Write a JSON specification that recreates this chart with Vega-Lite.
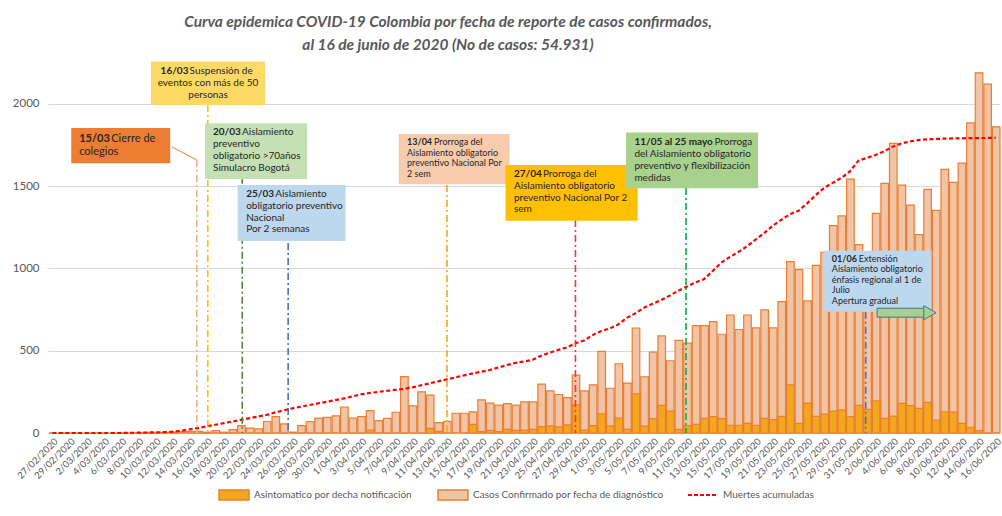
{
"$schema":"https://vega.github.io/schema/vega-lite/v6.json",
"width":952,"height":362,
"autosize":{"type":"none"},
"padding":{"left":48,"top":71,"right":2,"bottom":83},
"background":"white",
"config":{"view":{"stroke":null},"font":"Lato"},
"title":{"text":["Curva epidemica COVID-19 Colombia  por fecha de reporte de casos confirmados,","al 16 de junio de 2020 (No de casos: 54.931)"],"font":"Lato","fontSize":15.5,"fontStyle":"italic","fontWeight":"bold","color":"#595959","anchor":"middle","frame":"group","dx":-76,"offset":8,"lineHeight":23},
"resolve":{"axis":{"x":"independent","y":"independent"},"scale":{"color":"independent"},"legend":{"color":"independent"}},
"datasets":{
"casos":[
{"f":"2020-02-27","conf":0,"asin":0,"muertes":0},
{"f":"2020-02-28","conf":0,"asin":0,"muertes":0},
{"f":"2020-02-29","conf":0,"asin":0,"muertes":0},
{"f":"2020-03-01","conf":0,"asin":0,"muertes":0},
{"f":"2020-03-02","conf":0,"asin":0,"muertes":0},
{"f":"2020-03-03","conf":0,"asin":0,"muertes":0},
{"f":"2020-03-04","conf":0,"asin":0,"muertes":0},
{"f":"2020-03-05","conf":0,"asin":0,"muertes":0},
{"f":"2020-03-06","conf":1,"asin":0,"muertes":0},
{"f":"2020-03-07","conf":0,"asin":0,"muertes":1},
{"f":"2020-03-08","conf":2,"asin":0,"muertes":2},
{"f":"2020-03-09","conf":3,"asin":0,"muertes":3},
{"f":"2020-03-10","conf":3,"asin":0,"muertes":4},
{"f":"2020-03-11","conf":4,"asin":0,"muertes":5},
{"f":"2020-03-12","conf":6,"asin":0,"muertes":8},
{"f":"2020-03-13","conf":8,"asin":0,"muertes":14},
{"f":"2020-03-14","conf":10,"asin":0,"muertes":22},
{"f":"2020-03-15","conf":10,"asin":0,"muertes":30},
{"f":"2020-03-16","conf":5,"asin":0,"muertes":40},
{"f":"2020-03-17","conf":14,"asin":0,"muertes":50},
{"f":"2020-03-18","conf":5,"asin":0,"muertes":60},
{"f":"2020-03-19","conf":20,"asin":0,"muertes":70},
{"f":"2020-03-20","conf":45,"asin":0,"muertes":80},
{"f":"2020-03-21","conf":30,"asin":0,"muertes":90},
{"f":"2020-03-22","conf":25,"asin":0,"muertes":100},
{"f":"2020-03-23","conf":70,"asin":0,"muertes":110},
{"f":"2020-03-24","conf":100,"asin":0,"muertes":125},
{"f":"2020-03-25","conf":55,"asin":0,"muertes":138},
{"f":"2020-03-26","conf":5,"asin":0,"muertes":150},
{"f":"2020-03-27","conf":45,"asin":0,"muertes":160},
{"f":"2020-03-28","conf":70,"asin":0,"muertes":170},
{"f":"2020-03-29","conf":90,"asin":0,"muertes":180},
{"f":"2020-03-30","conf":95,"asin":0,"muertes":190},
{"f":"2020-03-31","conf":104,"asin":0,"muertes":200},
{"f":"2020-04-01","conf":158,"asin":0,"muertes":210},
{"f":"2020-04-02","conf":91,"asin":0,"muertes":222},
{"f":"2020-04-03","conf":100,"asin":0,"muertes":235},
{"f":"2020-04-04","conf":136,"asin":18,"muertes":243},
{"f":"2020-04-05","conf":75,"asin":0,"muertes":250},
{"f":"2020-04-06","conf":89,"asin":0,"muertes":256},
{"f":"2020-04-07","conf":126,"asin":0,"muertes":262},
{"f":"2020-04-08","conf":343,"asin":0,"muertes":268},
{"f":"2020-04-09","conf":165,"asin":0,"muertes":277},
{"f":"2020-04-10","conf":250,"asin":0,"muertes":290},
{"f":"2020-04-11","conf":230,"asin":28,"muertes":302},
{"f":"2020-04-12","conf":63,"asin":10,"muertes":314},
{"f":"2020-04-13","conf":71,"asin":0,"muertes":326},
{"f":"2020-04-14","conf":120,"asin":0,"muertes":338},
{"f":"2020-04-15","conf":120,"asin":0,"muertes":350},
{"f":"2020-04-16","conf":128,"asin":53,"muertes":362},
{"f":"2020-04-17","conf":201,"asin":8,"muertes":372},
{"f":"2020-04-18","conf":181,"asin":16,"muertes":383},
{"f":"2020-04-19","conf":169,"asin":8,"muertes":398},
{"f":"2020-04-20","conf":179,"asin":22,"muertes":413},
{"f":"2020-04-21","conf":169,"asin":16,"muertes":426},
{"f":"2020-04-22","conf":189,"asin":18,"muertes":435},
{"f":"2020-04-23","conf":189,"asin":22,"muertes":445},
{"f":"2020-04-24","conf":297,"asin":39,"muertes":470},
{"f":"2020-04-25","conf":256,"asin":43,"muertes":488},
{"f":"2020-04-26","conf":234,"asin":37,"muertes":505},
{"f":"2020-04-27","conf":215,"asin":49,"muertes":520},
{"f":"2020-04-28","conf":352,"asin":171,"muertes":545},
{"f":"2020-04-29","conf":256,"asin":18,"muertes":562},
{"f":"2020-04-30","conf":293,"asin":45,"muertes":595},
{"f":"2020-05-01","conf":496,"asin":116,"muertes":620},
{"f":"2020-05-02","conf":272,"asin":43,"muertes":635},
{"f":"2020-05-03","conf":421,"asin":91,"muertes":660},
{"f":"2020-05-04","conf":303,"asin":22,"muertes":700},
{"f":"2020-05-05","conf":638,"asin":238,"muertes":728},
{"f":"2020-05-06","conf":342,"asin":42,"muertes":762},
{"f":"2020-05-07","conf":491,"asin":87,"muertes":785},
{"f":"2020-05-08","conf":590,"asin":168,"muertes":808},
{"f":"2020-05-09","conf":439,"asin":133,"muertes":835},
{"f":"2020-05-10","conf":563,"asin":22,"muertes":865},
{"f":"2020-05-11","conf":546,"asin":45,"muertes":890},
{"f":"2020-05-12","conf":653,"asin":53,"muertes":915},
{"f":"2020-05-13","conf":653,"asin":89,"muertes":935},
{"f":"2020-05-14","conf":677,"asin":99,"muertes":985},
{"f":"2020-05-15","conf":600,"asin":87,"muertes":1035},
{"f":"2020-05-16","conf":717,"asin":47,"muertes":1070},
{"f":"2020-05-17","conf":629,"asin":47,"muertes":1100},
{"f":"2020-05-18","conf":717,"asin":59,"muertes":1135},
{"f":"2020-05-19","conf":639,"asin":47,"muertes":1175},
{"f":"2020-05-20","conf":748,"asin":89,"muertes":1215},
{"f":"2020-05-21","conf":639,"asin":81,"muertes":1260},
{"f":"2020-05-22","conf":799,"asin":101,"muertes":1295},
{"f":"2020-05-23","conf":1042,"asin":293,"muertes":1330},
{"f":"2020-05-24","conf":993,"asin":59,"muertes":1350},
{"f":"2020-05-25","conf":803,"asin":182,"muertes":1395},
{"f":"2020-05-26","conf":1019,"asin":101,"muertes":1445},
{"f":"2020-05-27","conf":1098,"asin":115,"muertes":1490},
{"f":"2020-05-28","conf":1260,"asin":133,"muertes":1520},
{"f":"2020-05-29","conf":1319,"asin":140,"muertes":1550},
{"f":"2020-05-30","conf":1543,"asin":99,"muertes":1590},
{"f":"2020-05-31","conf":1145,"asin":168,"muertes":1655},
{"f":"2020-06-01","conf":950,"asin":144,"muertes":1672},
{"f":"2020-06-02","conf":1335,"asin":196,"muertes":1690},
{"f":"2020-06-03","conf":1517,"asin":89,"muertes":1712},
{"f":"2020-06-04","conf":1760,"asin":103,"muertes":1740},
{"f":"2020-06-05","conf":1507,"asin":180,"muertes":1760},
{"f":"2020-06-06","conf":1385,"asin":166,"muertes":1772},
{"f":"2020-06-07","conf":1206,"asin":150,"muertes":1780},
{"f":"2020-06-08","conf":1481,"asin":186,"muertes":1785},
{"f":"2020-06-09","conf":1353,"asin":79,"muertes":1787},
{"f":"2020-06-10","conf":1602,"asin":129,"muertes":1789},
{"f":"2020-06-11","conf":1523,"asin":127,"muertes":1790},
{"f":"2020-06-12","conf":1640,"asin":59,"muertes":1791},
{"f":"2020-06-13","conf":1885,"asin":35,"muertes":1792},
{"f":"2020-06-14","conf":2189,"asin":14,"muertes":1792},
{"f":"2020-06-15","conf":2120,"asin":0,"muertes":1793},
{"f":"2020-06-16","conf":1861,"asin":0,"muertes":1793}
],
"notas":[
{"id":"n1","fecha":"2020-03-15T08:24:00Z","tope":1659,"bx1":"2020-02-29T17:02:00Z","bx2":"2020-03-12T06:00:00Z","by1":1639,"by2":1854,"tx":"2020-03-01T15:22:00Z","nx":"2020-03-01T15:22:00Z","ty":1821,"neg":"15/03","l1":"Cierre de","resto":"colegios","cx2":"2020-03-12T11:17:00Z","cy2":1738},
{"id":"n2","fecha":"2020-03-16T15:07:00Z","tope":1993,"bx1":"2020-03-10T00:00:00Z","bx2":"2020-03-23T07:12:00Z","by1":1993,"by2":2257,"tx":"2020-03-16T15:50:00Z","nx":"2020-03-11T03:07:00Z","ty":2229,"neg":"16/03","l1":"Suspensión de","resto":"eventos con más de 50\npersonas"},
{"id":"n3","fecha":"2020-03-20T15:36:00Z","tope":1558,"bx1":"2020-03-16T07:26:00Z","bx2":"2020-03-28T05:17:00Z","by1":1544,"by2":1882,"tx":"2020-03-17T05:46:00Z","nx":"2020-03-17T05:46:00Z","ty":1857,"neg":"20/03","l1":"Aislamiento","resto":"preventivo\nobligatorio  >70años\nSimulacro Bogotá"},
{"id":"n4","fecha":"2020-03-26T00:00:00Z","tope":1155,"bx1":"2020-03-20T02:53:00Z","bx2":"2020-04-01T16:34:00Z","by1":1167,"by2":1507,"tx":"2020-03-21T02:38:00Z","nx":"2020-03-21T02:38:00Z","ty":1482,"neg":"25/03","l1":"Aislamiento","resto":"obligatorio preventivo\nNacional\nPor 2 semanas"},
{"id":"n5","fecha":"2020-04-13T12:29:00Z","tope":1507,"bx1":"2020-04-07T21:36:00Z","bx2":"2020-04-20T19:41:00Z","by1":1511,"by2":1817,"tx":"2020-04-08T20:38:00Z","nx":"2020-04-08T20:38:00Z","ty":1792,"neg":"13/04","l1":"Prorroga del","resto":"Aislamiento obligatorio\npreventivo  Nacional  Por\n2 sem"},
{"id":"n6","fecha":"2020-04-28T12:00:00Z","tope":1294,"bx1":"2020-04-20T08:24:00Z","bx2":"2020-05-05T18:00:00Z","by1":1290,"by2":1629,"tx":"2020-04-21T07:41:00Z","nx":"2020-04-21T07:41:00Z","ty":1603,"neg":"27/04","l1":"Prorroga del","resto":"Aislamiento obligatorio\npreventivo  Nacional  Por 2\nsem"},
{"id":"n7","fecha":"2020-05-11T09:21:00Z","tope":1489,"bx1":"2020-05-04T09:36:00Z","bx2":"2020-05-19T19:12:00Z","by1":1487,"by2":1827,"tx":"2020-05-05T08:53:00Z","nx":"2020-05-05T08:53:00Z","ty":1796,"neg":"11/05 al 25 mayo","l1":"Prorroga","resto":"del Aislamiento obligatorio\npreventivo y flexibilización\nmedidas"},
{"id":"n8","fecha":"2020-06-01T08:10:00Z","tope":737,"bx1":"2020-05-27T09:36:00Z","bx2":"2020-06-09T00:43:00Z","by1":737,"by2":1108,"tx":"2020-05-28T09:22:00Z","nx":"2020-05-28T09:22:00Z","ty":1083,"neg":"01/06","l1":"Extensión","resto":"Aislamiento obligatorio\nénfasis regional al 1 de\nJulio\nApertura gradual"}
],
"flecha":[{"a1":"2020-06-02T16:05:00Z","a2":"2020-06-08T07:12:00Z","ay1":704,"ay2":758,"tip":"2020-06-08T19:55:00Z","ay":731}]
},
"data":{"name":"casos"},
"layer":[
{"mark":{"type":"bar","stroke":"#ED7D31","strokeWidth":1.2},
 "encoding":{
  "x":{"field":"f","timeUnit":"utcyearmonthdate","type":"temporal","title":null,
    "scale":{"type":"utc","domain":[{"year":2020,"month":2,"date":27,"utc":true},{"year":2020,"month":6,"date":17,"utc":true}],"nice":false},
    "axis":{"labelExpr":"utcFormat(datum.value, '%-d/%m/%Y')","labelAngle":-45,"labelFontSize":9.5,"labelColor":"#595959","ticks":false,"grid":false,"domainColor":"#D9D9D9","labelPadding":3,"labelOverlap":false,"labelBound":false,"labelFlush":false,
     "values":[
{"year":2020,"month":2,"date":27,"hours":12,"utc":true},{"year":2020,"month":2,"date":29,"hours":12,"utc":true},
{"year":2020,"month":3,"date":2,"hours":12,"utc":true},{"year":2020,"month":3,"date":4,"hours":12,"utc":true},{"year":2020,"month":3,"date":6,"hours":12,"utc":true},{"year":2020,"month":3,"date":8,"hours":12,"utc":true},{"year":2020,"month":3,"date":10,"hours":12,"utc":true},{"year":2020,"month":3,"date":12,"hours":12,"utc":true},{"year":2020,"month":3,"date":14,"hours":12,"utc":true},{"year":2020,"month":3,"date":16,"hours":12,"utc":true},{"year":2020,"month":3,"date":18,"hours":12,"utc":true},{"year":2020,"month":3,"date":20,"hours":12,"utc":true},{"year":2020,"month":3,"date":22,"hours":12,"utc":true},{"year":2020,"month":3,"date":24,"hours":12,"utc":true},{"year":2020,"month":3,"date":26,"hours":12,"utc":true},{"year":2020,"month":3,"date":28,"hours":12,"utc":true},{"year":2020,"month":3,"date":30,"hours":12,"utc":true},
{"year":2020,"month":4,"date":1,"hours":12,"utc":true},{"year":2020,"month":4,"date":3,"hours":12,"utc":true},{"year":2020,"month":4,"date":5,"hours":12,"utc":true},{"year":2020,"month":4,"date":7,"hours":12,"utc":true},{"year":2020,"month":4,"date":9,"hours":12,"utc":true},{"year":2020,"month":4,"date":11,"hours":12,"utc":true},{"year":2020,"month":4,"date":13,"hours":12,"utc":true},{"year":2020,"month":4,"date":15,"hours":12,"utc":true},{"year":2020,"month":4,"date":17,"hours":12,"utc":true},{"year":2020,"month":4,"date":19,"hours":12,"utc":true},{"year":2020,"month":4,"date":21,"hours":12,"utc":true},{"year":2020,"month":4,"date":23,"hours":12,"utc":true},{"year":2020,"month":4,"date":25,"hours":12,"utc":true},{"year":2020,"month":4,"date":27,"hours":12,"utc":true},{"year":2020,"month":4,"date":29,"hours":12,"utc":true},
{"year":2020,"month":5,"date":1,"hours":12,"utc":true},{"year":2020,"month":5,"date":3,"hours":12,"utc":true},{"year":2020,"month":5,"date":5,"hours":12,"utc":true},{"year":2020,"month":5,"date":7,"hours":12,"utc":true},{"year":2020,"month":5,"date":9,"hours":12,"utc":true},{"year":2020,"month":5,"date":11,"hours":12,"utc":true},{"year":2020,"month":5,"date":13,"hours":12,"utc":true},{"year":2020,"month":5,"date":15,"hours":12,"utc":true},{"year":2020,"month":5,"date":17,"hours":12,"utc":true},{"year":2020,"month":5,"date":19,"hours":12,"utc":true},{"year":2020,"month":5,"date":21,"hours":12,"utc":true},{"year":2020,"month":5,"date":23,"hours":12,"utc":true},{"year":2020,"month":5,"date":25,"hours":12,"utc":true},{"year":2020,"month":5,"date":27,"hours":12,"utc":true},{"year":2020,"month":5,"date":29,"hours":12,"utc":true},{"year":2020,"month":5,"date":31,"hours":12,"utc":true},
{"year":2020,"month":6,"date":2,"hours":12,"utc":true},{"year":2020,"month":6,"date":4,"hours":12,"utc":true},{"year":2020,"month":6,"date":6,"hours":12,"utc":true},{"year":2020,"month":6,"date":8,"hours":12,"utc":true},{"year":2020,"month":6,"date":10,"hours":12,"utc":true},{"year":2020,"month":6,"date":12,"hours":12,"utc":true},{"year":2020,"month":6,"date":14,"hours":12,"utc":true},{"year":2020,"month":6,"date":16,"hours":12,"utc":true}
     ]}},
  "y":{"field":"conf","type":"quantitative","title":null,"scale":{"domain":[0,2200],"nice":false},
    "axis":{"values":[0,500,1000,1500,2000],"format":"d","grid":true,"gridColor":"#D9D9D9","domain":false,"ticks":false,"labelFontSize":11.5,"labelColor":"#595959","labelPadding":9}},
  "color":{"datum":"Casos Confirmado por fecha de diagnóstico","type":"nominal","scale":{"range":["#F0C4A6"]},
    "legend":{"title":null,"orient":"none","legendX":389,"legendY":408,"symbolType":"M-1,-0.34L1,-0.34L1,0.34L-1,0.34Z","symbolSize":900,"symbolStrokeColor":"#ED7D31","symbolStrokeWidth":1.5,"symbolOpacity":1,"labelFontSize":10,"labelColor":"#595959","labelOffset":4,"labelLimit":0}}
 }},
{"mark":{"type":"bar","stroke":"#ED7D31","strokeWidth":1.2},
 "encoding":{
  "x":{"field":"f","timeUnit":"utcyearmonthdate","type":"temporal","title":null,"axis":null,"scale":{"type":"utc"}},
  "y":{"field":"asin","type":"quantitative","title":null,"axis":null},
  "color":{"datum":"Asintomatico  por decha notificación","type":"nominal","scale":{"range":["#F2A81E"]},
    "legend":{"title":null,"orient":"none","legendX":170,"legendY":408,"symbolType":"M-1,-0.34L1,-0.34L1,0.34L-1,0.34Z","symbolSize":900,"symbolStrokeColor":"#ED7D31","symbolStrokeWidth":1.5,"symbolOpacity":1,"labelFontSize":10,"labelColor":"#595959","labelOffset":4,"labelLimit":0}}
 }},
{"mark":{"type":"line","strokeDash":[4,2.5],"strokeWidth":2.2},
 "encoding":{
  "x":{"field":"f","timeUnit":"utcyearmonthdate","type":"temporal","title":null,"axis":null,"bandPosition":0.5,"scale":{"type":"utc"}},
  "y":{"field":"muertes","type":"quantitative","title":null,"axis":null},
  "color":{"datum":"Muertes acumuladas","type":"nominal","scale":{"range":["#FF0000"]},
    "legend":{"title":null,"orient":"none","legendX":639,"legendY":408,"symbolType":"M-1,0L1,0","symbolSize":900,"symbolDash":[4,2],"symbolStrokeWidth":2,"symbolOpacity":1,"labelFontSize":10,"labelColor":"#595959","labelOffset":4,"labelLimit":0}}
 }},
{"data":{"name":"notas"},
 "mark":{"type":"rule","strokeDash":[7,3,2,3],"strokeWidth":1.6},
 "encoding":{
  "x":{"field":"fecha","type":"temporal","title":null,"axis":null,"scale":{"type":"utc"}},
  "y":{"field":"tope","type":"quantitative","title":null,"axis":null},
  "y2":{"datum":0},
  "stroke":{"field":"id","type":"nominal","legend":null,"scale":{"domain":["n1","n2","n3","n4","n5","n6","n7","n8"],"range":["#F4B183","#FFC000","#548235","#4472C4","#F5A623","#FF3333","#00B050","#4472C4"]}}
 }},
{"data":{"name":"notas"},
 "transform":[{"filter":"datum.cx2 != null"}],
 "mark":{"type":"rule","color":"#ED7D31","strokeWidth":1},
 "encoding":{
  "x":{"field":"fecha","type":"temporal","title":null,"axis":null,"scale":{"type":"utc"}},
  "x2":{"field":"cx2"},
  "y":{"field":"tope","type":"quantitative","title":null,"axis":null},
  "y2":{"field":"cy2"}
 }},
{"data":{"name":"notas"},
 "mark":{"type":"rect"},
 "encoding":{
  "x":{"field":"bx1","type":"temporal","title":null,"axis":null,"scale":{"type":"utc"}},
  "x2":{"field":"bx2"},
  "y":{"field":"by1","type":"quantitative","title":null,"axis":null},
  "y2":{"field":"by2"},
  "fill":{"field":"id","type":"nominal","legend":null,"scale":{"domain":["n1","n2","n3","n4","n5","n6","n7","n8"],"range":["#ED7D31","#FFD966","#C5E0B4","#BDD7EE","#F8CBAD","#FFC000","#A9D18E","#BDD7EE"]}}
 }},
{"data":{"name":"notas"},
 "transform":[{"filter":"datum.id == 'n1'"}],
 "mark":{"type":"text","align":"left","baseline":"top","fontSize":11,"fontWeight":"bold","color":"#262626"},
 "encoding":{"x":{"field":"nx","type":"temporal","title":null,"axis":null,"scale":{"type":"utc"}},"y":{"field":"ty","type":"quantitative","title":null,"axis":null},"text":{"field":"neg"}}},
{"data":{"name":"notas"},
 "transform":[{"filter":"datum.id == 'n1'"}],
 "mark":{"type":"text","align":"left","baseline":"top","fontSize":11,"dx":32,"color":"#262626"},
 "encoding":{"x":{"field":"nx","type":"temporal","title":null,"axis":null,"scale":{"type":"utc"}},"y":{"field":"ty","type":"quantitative","title":null,"axis":null},"text":{"field":"l1"}}},
{"data":{"name":"notas"},
 "transform":[{"filter":"datum.id == 'n1'"}],
 "mark":{"type":"text","align":"left","baseline":"top","fontSize":11,"dy":13,"lineHeight":13,"lineBreak":"\n","color":"#262626"},
 "encoding":{"x":{"field":"tx","type":"temporal","title":null,"axis":null,"scale":{"type":"utc"}},"y":{"field":"ty","type":"quantitative","title":null,"axis":null},"text":{"field":"resto"}}},
{"data":{"name":"notas"},
 "transform":[{"filter":"indexof(['n2','n3','n4','n6','n7'], datum.id) >= 0"}],
 "mark":{"type":"text","align":"left","baseline":"top","fontSize":10,"fontWeight":"bold","color":"#262626"},
 "encoding":{"x":{"field":"nx","type":"temporal","title":null,"axis":null,"scale":{"type":"utc"}},"y":{"field":"ty","type":"quantitative","title":null,"axis":null},"text":{"field":"neg"}}},
{"data":{"name":"notas"},
 "transform":[{"filter":"indexof(['n2','n3','n4','n6'], datum.id) >= 0"}],
 "mark":{"type":"text","align":"left","baseline":"top","fontSize":10,"dx":29,"color":"#262626"},
 "encoding":{"x":{"field":"nx","type":"temporal","title":null,"axis":null,"scale":{"type":"utc"}},"y":{"field":"ty","type":"quantitative","title":null,"axis":null},"text":{"field":"l1"}}},
{"data":{"name":"notas"},
 "transform":[{"filter":"datum.id == 'n7'"}],
 "mark":{"type":"text","align":"left","baseline":"top","fontSize":10,"dx":80,"color":"#262626"},
 "encoding":{"x":{"field":"nx","type":"temporal","title":null,"axis":null,"scale":{"type":"utc"}},"y":{"field":"ty","type":"quantitative","title":null,"axis":null},"text":{"field":"l1"}}},
{"data":{"name":"notas"},
 "transform":[{"filter":"indexof(['n3','n4','n6','n7'], datum.id) >= 0"}],
 "mark":{"type":"text","align":"left","baseline":"top","fontSize":10,"dy":11.7,"lineHeight":11.7,"lineBreak":"\n","color":"#262626"},
 "encoding":{"x":{"field":"tx","type":"temporal","title":null,"axis":null,"scale":{"type":"utc"}},"y":{"field":"ty","type":"quantitative","title":null,"axis":null},"text":{"field":"resto"}}},
{"data":{"name":"notas"},
 "transform":[{"filter":"datum.id == 'n2'"}],
 "mark":{"type":"text","align":"center","baseline":"top","fontSize":10,"dy":11.7,"lineHeight":11.7,"lineBreak":"\n","color":"#262626"},
 "encoding":{"x":{"field":"tx","type":"temporal","title":null,"axis":null,"scale":{"type":"utc"}},"y":{"field":"ty","type":"quantitative","title":null,"axis":null},"text":{"field":"resto"}}},
{"data":{"name":"notas"},
 "transform":[{"filter":"indexof(['n5','n8'], datum.id) >= 0"}],
 "mark":{"type":"text","align":"left","baseline":"top","fontSize":9,"fontWeight":"bold","color":"#262626"},
 "encoding":{"x":{"field":"nx","type":"temporal","title":null,"axis":null,"scale":{"type":"utc"}},"y":{"field":"ty","type":"quantitative","title":null,"axis":null},"text":{"field":"neg"}}},
{"data":{"name":"notas"},
 "transform":[{"filter":"indexof(['n5','n8'], datum.id) >= 0"}],
 "mark":{"type":"text","align":"left","baseline":"top","fontSize":9,"dx":27,"color":"#262626"},
 "encoding":{"x":{"field":"nx","type":"temporal","title":null,"axis":null,"scale":{"type":"utc"}},"y":{"field":"ty","type":"quantitative","title":null,"axis":null},"text":{"field":"l1"}}},
{"data":{"name":"notas"},
 "transform":[{"filter":"indexof(['n5','n8'], datum.id) >= 0"}],
 "mark":{"type":"text","align":"left","baseline":"top","fontSize":9,"dy":10.5,"lineHeight":10.5,"lineBreak":"\n","color":"#262626"},
 "encoding":{"x":{"field":"tx","type":"temporal","title":null,"axis":null,"scale":{"type":"utc"}},"y":{"field":"ty","type":"quantitative","title":null,"axis":null},"text":{"field":"resto"}}},
{"data":{"name":"flecha"},
 "mark":{"type":"rect","fill":"#A9D18E","stroke":"#41719C","strokeWidth":1},
 "encoding":{"x":{"field":"a1","type":"temporal","title":null,"axis":null,"scale":{"type":"utc"}},"x2":{"field":"a2"},"y":{"field":"ay1","type":"quantitative","title":null,"axis":null},"y2":{"field":"ay2"}}},
{"data":{"name":"flecha"},
 "mark":{"type":"point","shape":"triangle-right","filled":true,"fill":"#A9D18E","stroke":"#41719C","strokeWidth":1,"size":200,"opacity":1},
 "encoding":{"x":{"field":"tip","type":"temporal","title":null,"axis":null,"scale":{"type":"utc"}},"y":{"field":"ay","type":"quantitative","title":null,"axis":null}}}
]
}
